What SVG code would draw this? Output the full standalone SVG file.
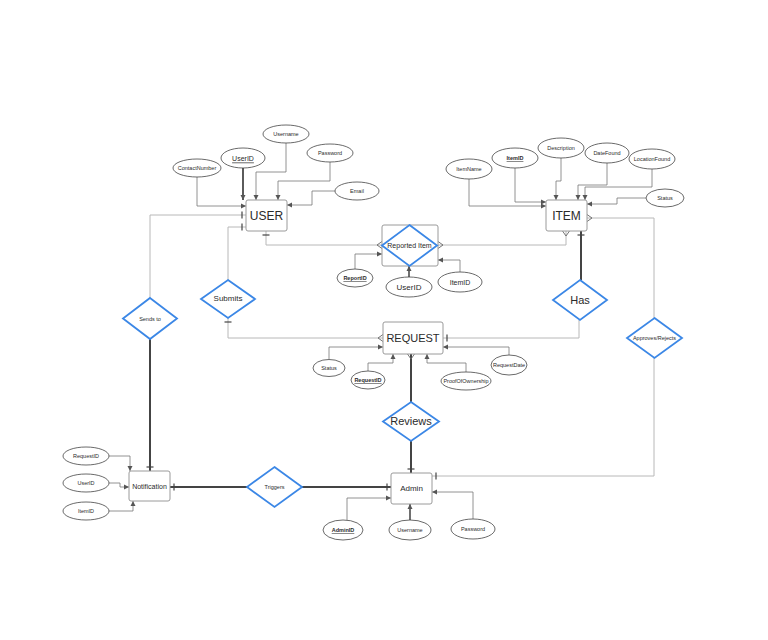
<svg xmlns="http://www.w3.org/2000/svg" width="768" height="640" viewBox="0 0 768 640">
<style>
.ent{fill:#fff;stroke:#9a9a9a;stroke-width:1}
.att{fill:#fff;stroke:#444;stroke-width:0.8}
.rel{fill:#fff;stroke:#3b87e6;stroke-width:1.8}
.t{font-family:"Liberation Sans",Arial,sans-serif;fill:#2a2a2a;text-anchor:middle;dominant-baseline:central}
.s6{font-size:5.5px}
.s7{font-size:7px}
.s8{font-size:8px}
.s11{font-size:11px}
.s12{font-size:12px}
.u{text-decoration:underline;font-weight:bold}
.ac{fill:none;stroke:#777;stroke-width:0.8;marker-end:url(#arr)}
.lt{fill:none;stroke:#b8b8b8;stroke-width:1}
.dk{fill:none;stroke:#444;stroke-width:2}
</style>
<defs>
<marker id="arr" markerUnits="userSpaceOnUse" markerWidth="6" markerHeight="6" refX="5" refY="3" orient="auto-start-reverse"><path d="M0,0.5 L5,3 L0,5.5 z" fill="#555"/></marker>
<marker id="tee" markerUnits="userSpaceOnUse" markerWidth="10" markerHeight="10" refX="10" refY="5" orient="auto-start-reverse"><path d="M6,1.5 V8.5" stroke="#444" stroke-width="1.2" fill="none"/></marker>
<marker id="crow" markerUnits="userSpaceOnUse" markerWidth="10" markerHeight="10" refX="10" refY="5" orient="auto-start-reverse"><path d="M10,1.5 L5,5 L10,8.5" stroke="#666" stroke-width="0.9" fill="none"/></marker>
</defs>
<rect width="768" height="640" fill="#fff"/>
<g id="connectors">
<path class="lt" d="M150,298 V215 H246" marker-end="url(#tee)"/>
<path class="dk" d="M150,339 V471" marker-end="url(#tee)"/>
<path class="lt" d="M228,280 V227 H246" marker-end="url(#tee)"/>
<path class="lt" d="M383,338 H228 V318" marker-start="url(#crow)" marker-end="url(#tee)"/>
<path class="lt" d="M266,231 V245 H382" marker-start="url(#tee)" marker-end="url(#crow)"/>
<path class="lt" d="M438,245 H566 V231" marker-start="url(#crow)" marker-end="url(#crow)"/>
<path class="dk" d="M581,231 V280" marker-start="url(#tee)"/>
<path class="lt" d="M579,320 V338 H443" marker-end="url(#tee)"/>
<path class="dk" d="M411,354 V402" marker-start="url(#crow)"/>
<path class="dk" d="M411,441 V473" marker-end="url(#tee)"/>
<path class="lt" d="M587,218 H654 V318" marker-start="url(#crow)"/>
<path class="lt" d="M654,358 V476 H432" marker-end="url(#tee)"/>
<path class="dk" d="M302,487 H391" marker-end="url(#tee)"/>
<path class="dk" d="M247,487 H170" marker-end="url(#tee)"/>
<path class="ac" d="M243,168 V200" style="stroke:#333;stroke-width:1.6"/>
<path class="ac" d="M286,143 V172 H256 V200"/>
<path class="ac" d="M330,162 V181 H278 V200"/>
<path class="ac" d="M335,191 H312 V205 H287"/>
<path class="ac" d="M197,177 V206 H246"/>
<path class="ac" d="M469,178 V206 H546"/>
<path class="ac" d="M515,168 V202 H546"/>
<path class="ac" d="M561,158 V181 H556 V200"/>
<path class="ac" d="M607,163 V185 H578 V200"/>
<path class="ac" d="M652,169 V187 H585 V200"/>
<path class="ac" d="M646,198 H617 V204 H587"/>
<path class="ac" d="M355,269 V254 H382"/>
<path class="ac" d="M409,277 V266" style="stroke:#333;stroke-width:1.4"/>
<path class="ac" d="M460,272 V260 H438"/>
<path class="ac" d="M329,359 V347 H383"/>
<path class="ac" d="M368,371 V363 H393 V354"/>
<path class="ac" d="M466,372 V363 H427 V354"/>
<path class="ac" d="M509,355 V347 H443"/>
<path class="ac" d="M347,520 V498 H391"/>
<path class="ac" d="M410,520 V504" style="stroke:#333;stroke-width:1.4"/>
<path class="ac" d="M473,519 V492 H432"/>
<path class="ac" d="M109,456 H130 V471"/>
<path class="ac" d="M109,483 H120 V487 H129"/>
<path class="ac" d="M109,511 H133 V501"/>
</g>
<g id="USER"><rect class="ent" x="246" y="200" width="41" height="31" rx="2"/><text class="t s12" x="266.5" y="215.5">USER</text></g>
<g id="ITEM"><rect class="ent" x="546" y="200" width="41" height="31" rx="2"/><text class="t s12" x="566.5" y="215.5">ITEM</text></g>
<g id="REQUEST"><rect class="ent" x="383" y="322" width="60" height="32" rx="2"/><text class="t s11" x="413" y="338">REQUEST</text></g>
<g id="Admin"><rect class="ent" x="391" y="473" width="41" height="31" rx="2"/><text class="t s8" x="411.5" y="488.5">Admin</text></g>
<g id="Notification"><rect class="ent" x="129" y="471" width="41" height="30" rx="2"/><text class="t s7" x="149.5" y="486">Notification</text></g>
<g id="ReportedItem"><rect class="ent" x="382" y="225" width="56" height="41" rx="2"/><path class="rel" d="M409.5,225 L437,245.5 L409.5,266 L382,245.5 z"/><text class="t s7" x="409.5" y="245.5">Reported Item</text></g>
<g id="SendsTo"><path class="rel" d="M150,298 L177,318.5 L150,339 L123,318.5 z"/><text class="t s6" x="150" y="318.5">Sends to</text></g>
<g id="Submits"><path class="rel" d="M228,280 L255,299 L228,318 L201,299 z"/><text class="t s8" x="228" y="298">Submits</text></g>
<g id="Has"><path class="rel" d="M580,280 L607,300 L580,320 L553,300 z"/><text class="t s11" x="580" y="300">Has</text></g>
<g id="ApprovesRejects"><path class="rel" d="M654.5,318 L682,338 L654.5,358 L627,338 z"/><text class="t s6" x="654.5" y="338">Approves/Rejects</text></g>
<g id="Reviews"><path class="rel" d="M411,402 L439,421.5 L411,441 L383,421.5 z"/><text class="t s11" x="411" y="421">Reviews</text></g>
<g id="Triggers"><path class="rel" d="M274.5,467 L302,487 L274.5,507 L247,487 z"/><text class="t s6" x="274.5" y="487">Triggers</text></g>
<g id="att-Username"><ellipse class="att" cx="286" cy="134" rx="23" ry="9"/><text class="t s6" x="286" y="134">Username</text></g>
<g id="att-UserID"><ellipse class="att" cx="243" cy="158" rx="22" ry="10"/><text class="t s7" x="243" y="158" text-decoration="underline">UserID</text></g>
<g id="att-ContactNumber"><ellipse class="att" cx="197" cy="168" rx="24" ry="9"/><text class="t s6" x="197" y="168">ContactNumber</text></g>
<g id="att-Password"><ellipse class="att" cx="330" cy="153" rx="23" ry="9"/><text class="t s6" x="330" y="153">Password</text></g>
<g id="att-Email"><ellipse class="att" cx="357" cy="191" rx="22" ry="9"/><text class="t s6" x="357" y="191">Email</text></g>
<g id="att-ItemName"><ellipse class="att" cx="469" cy="169" rx="23" ry="10"/><text class="t s6" x="469" y="169">ItemName</text></g>
<g id="att-ItemID"><ellipse class="att" cx="515" cy="158" rx="23" ry="10"/><text class="t s6 u" x="515" y="158">ItemID</text></g>
<g id="att-Description"><ellipse class="att" cx="561" cy="148" rx="23" ry="10"/><text class="t s6" x="561" y="148">Description</text></g>
<g id="att-DateFound"><ellipse class="att" cx="607" cy="153" rx="22" ry="10"/><text class="t s6" x="607" y="153">DateFound</text></g>
<g id="att-LocationFound"><ellipse class="att" cx="652" cy="159" rx="23" ry="10"/><text class="t s6" x="652" y="159">LocationFound</text></g>
<g id="att-ItemStatus"><ellipse class="att" cx="665" cy="198" rx="19" ry="9"/><text class="t s6" x="665" y="198">Status</text></g>
<g id="att-ReportID"><ellipse class="att" cx="355" cy="278" rx="18" ry="9"/><text class="t s6 u" x="355" y="278">ReportID</text></g>
<g id="att-RUserID"><ellipse class="att" cx="409" cy="287" rx="23" ry="10"/><text class="t s8" x="409" y="287">UserID</text></g>
<g id="att-RItemID"><ellipse class="att" cx="460" cy="282" rx="22" ry="10"/><text class="t s7" x="460" y="282">ItemID</text></g>
<g id="att-ReqStatus"><ellipse class="att" cx="329" cy="368" rx="16" ry="8.5"/><text class="t s6" x="329" y="368">Status</text></g>
<g id="att-RequestID"><ellipse class="att" cx="368" cy="380" rx="17" ry="9"/><text class="t s6 u" x="368" y="380">RequestID</text></g>
<g id="att-ProofOfOwnership"><ellipse class="att" cx="466" cy="381" rx="25" ry="9"/><text class="t s6" x="466" y="381">ProofOfOwnership</text></g>
<g id="att-RequestDate"><ellipse class="att" cx="509" cy="365" rx="18" ry="10"/><text class="t s6" x="509" y="365">RequestDate</text></g>
<g id="att-AdminID"><ellipse class="att" cx="343" cy="530" rx="20" ry="10"/><text class="t s6 u" x="343" y="530">AdminID</text></g>
<g id="att-AdminUsername"><ellipse class="att" cx="410" cy="530" rx="21" ry="10"/><text class="t s6" x="410" y="530">Username</text></g>
<g id="att-AdminPassword"><ellipse class="att" cx="473" cy="529" rx="22" ry="10"/><text class="t s6" x="473" y="529">Password</text></g>
<g id="att-NRequestID"><ellipse class="att" cx="86" cy="456" rx="23" ry="9"/><text class="t s6" x="86" y="456">RequestID</text></g>
<g id="att-NUserID"><ellipse class="att" cx="86" cy="483" rx="23" ry="9"/><text class="t s6" x="86" y="483">UserID</text></g>
<g id="att-NItemID"><ellipse class="att" cx="86" cy="511" rx="23" ry="9"/><text class="t s6" x="86" y="511">ItemID</text></g>
</svg>
